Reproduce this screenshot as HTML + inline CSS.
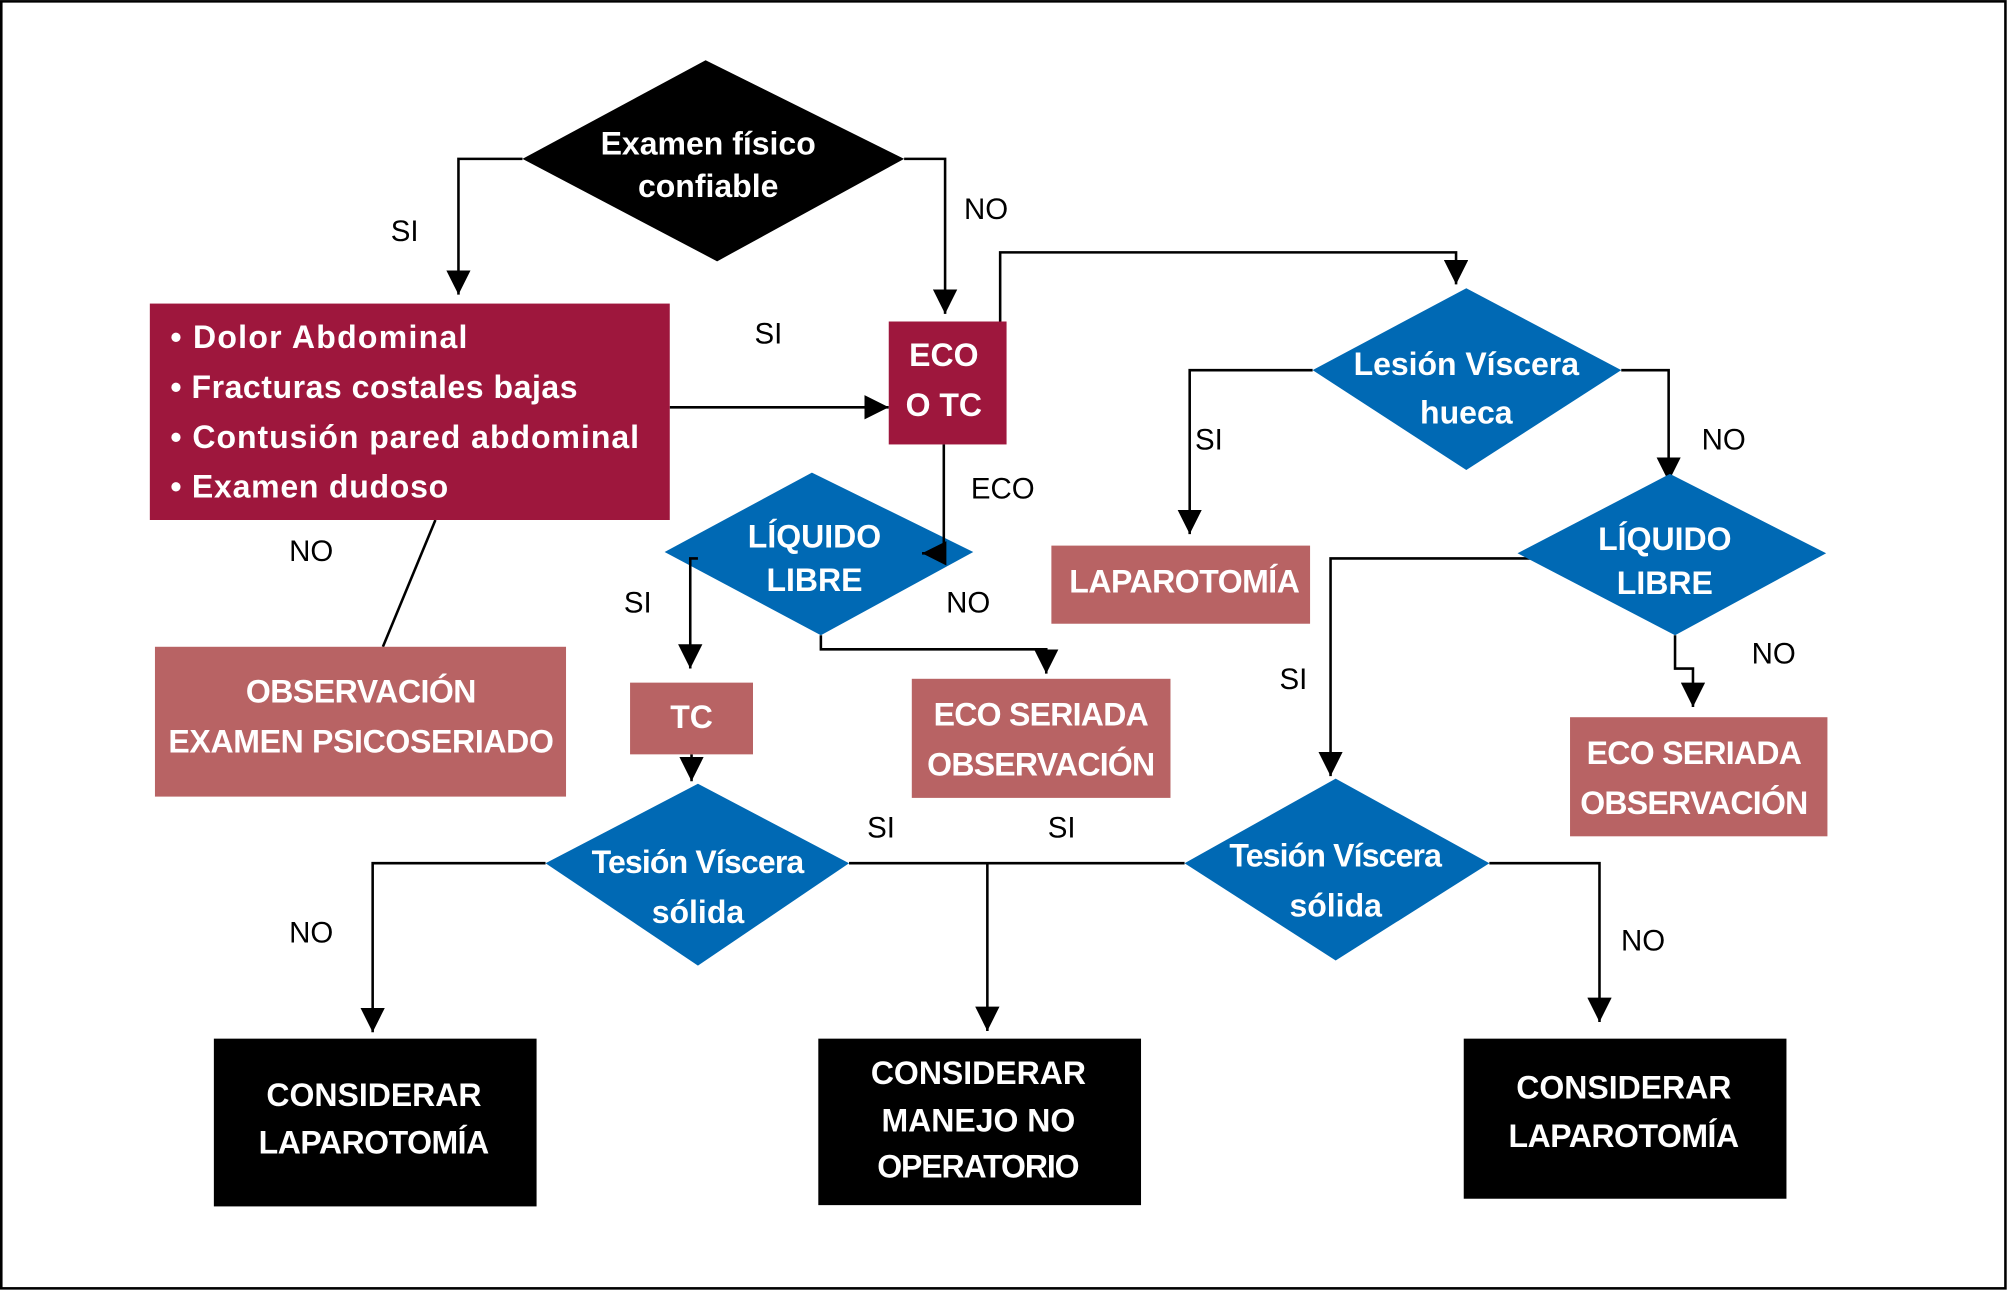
<!DOCTYPE html>
<html><head><meta charset="utf-8"><style>html,body{margin:0;padding:0;background:#fff}svg{display:block}
text{font-family:"Liberation Sans Narrow","Liberation Sans",sans-serif;text-anchor:middle;dominant-baseline:middle}
.w{fill:#fff;font-weight:bold;font-size:25px}.l{fill:#000;font-size:23px}</style></head><body>
<svg width="2008" height="1291" viewBox="0 0 1568 1008" xmlns="http://www.w3.org/2000/svg">
<defs>
<marker id="b" viewBox="0 0 10 10" refX="10" refY="5" markerWidth="19" markerHeight="19" markerUnits="userSpaceOnUse" orient="auto" preserveAspectRatio="none"><path d="M0,0L10,5L0,10z" fill="#000"/></marker></defs>
<rect x="1" y="1" width="1565" height="1005" fill="#fff" stroke="#000" stroke-width="2"/>
<g fill="none" stroke="#000" stroke-width="2">
<polyline points="408,124 358,124 358,230" marker-end="url(#b)"/>
<polyline points="706,124 738,124 738,245" marker-end="url(#b)"/>
<line x1="523" y1="318" x2="694" y2="318" marker-end="url(#b)"/>
<polyline points="781,251 781,197 1137,197 1137,222" marker-end="url(#b)"/>
<polyline points="1025,289 929,289 929,417" marker-end="url(#b)"/>
<polyline points="1266,289 1303,289 1303,376" marker-end="url(#b)"/>
<polyline points="1212,436 1039,436 1039,606" marker-end="url(#b)"/>
<polyline points="1308,496 1308,522 1322,522 1322,552" marker-end="url(#b)"/>
<polyline points="641,496 641,507 817,507 817,526" marker-end="url(#b)"/>
<line x1="340" y1="406" x2="299" y2="505"/>
<line x1="540" y1="589" x2="540" y2="610" marker-end="url(#b)"/>
<polyline points="426,674 291,674 291,806" marker-end="url(#b)"/>
<line x1="663" y1="674" x2="925" y2="674"/>
<line x1="771" y1="674" x2="771" y2="805" marker-end="url(#b)"/>
<polyline points="1163,674 1249,674 1249,798" marker-end="url(#b)"/>
</g>
<polygon points="551,47 706,124 560,204 408,124" fill="#000"/>
<text class="w" x="553" y="114">Examen físico</text><text class="w" x="553" y="147">confiable</text>
<rect x="117" y="237" width="406" height="169" fill="#9e173d"/>
<g class="w"><text x="133" y="265" style="text-anchor:start" textLength="232">• Dolor Abdominal</text><text x="133" y="304" style="text-anchor:start" textLength="318">• Fracturas costales bajas</text><text x="133" y="343" style="text-anchor:start" textLength="366">• Contusión pared abdominal</text><text x="133" y="382" style="text-anchor:start" textLength="217">• Examen dudoso</text></g>
<rect x="694" y="251" width="92" height="96" fill="#9e173d"/>
<text class="w" x="737" y="279">ECO</text><text class="w" x="737" y="318">O TC</text>
<polygon points="1145,225 1266,289 1145,367 1025,289" fill="#0069b4"/>
<text class="w" x="1145" y="286" textLength="176">Lesión Víscera</text><text class="w" x="1145" y="324">hueca</text>
<rect x="821" y="426" width="202" height="61" fill="#b86364"/><text class="w" x="925" y="456" textLength="180">LAPAROTOMÍA</text>
<polygon points="1304,370 1426,432 1308,496 1185,432" fill="#0069b4"/>
<text class="w" x="1300" y="423">LÍQUIDO</text><text class="w" x="1300" y="457">LIBRE</text>
<rect x="1226" y="560" width="201" height="93" fill="#b86364"/><text class="w" x="1323" y="590" textLength="168">ECO SERIADA</text><text class="w" x="1323" y="629" textLength="178">OBSERVACIÓN</text>
<polygon points="634,369 760,431 641,496 519,431" fill="#0069b4"/>
<text class="w" x="636" y="421">LÍQUIDO</text><text class="w" x="636" y="455">LIBRE</text>
<g fill="none" stroke="#000" stroke-width="2">
<polyline points="737,347 737,432 720,432" marker-end="url(#b)"/>
<polyline points="545,436 539,436 539,522" marker-end="url(#b)"/>
</g>
<rect x="121" y="505" width="321" height="117" fill="#b86364"/><text class="w" x="282" y="542" textLength="180">OBSERVACIÓN</text><text class="w" x="282" y="581" textLength="301">EXAMEN PSICOSERIADO</text>
<rect x="492" y="533" width="96" height="56" fill="#b86364"/><text class="w" x="540" y="562">TC</text>
<rect x="712" y="530" width="202" height="93" fill="#b86364"/><text class="w" x="813" y="560" textLength="168">ECO SERIADA</text><text class="w" x="813" y="599" textLength="178">OBSERVACIÓN</text>
<polygon points="545,612 663,674 545,754 426,674" fill="#0069b4"/>
<text class="w" x="545" y="675" textLength="166">Tesión Víscera</text><text class="w" x="545" y="714">sólida</text>
<polygon points="1043,608 1163,674 1043,750 925,674" fill="#0069b4"/>
<text class="w" x="1043" y="670" textLength="166">Tesión Víscera</text><text class="w" x="1043" y="709">sólida</text>
<rect x="167" y="811" width="252" height="131" fill="#000"/><text class="w" x="292" y="857">CONSIDERAR</text><text class="w" x="292" y="894" textLength="180">LAPAROTOMÍA</text>
<rect x="639" y="811" width="252" height="130" fill="#000"/><text class="w" x="764" y="840">CONSIDERAR</text><text class="w" x="764" y="877">MANEJO NO</text><text class="w" x="764" y="913" textLength="158">OPERATORIO</text>
<rect x="1143" y="811" width="252" height="125" fill="#000"/><text class="w" x="1268" y="851">CONSIDERAR</text><text class="w" x="1268" y="889" textLength="180">LAPAROTOMÍA</text>
<g>
<text class="l" x="316" y="182">SI</text><text class="l" x="770" y="165">NO</text><text class="l" x="600" y="262">SI</text>
<text class="l" x="944" y="345">SI</text><text class="l" x="1346" y="345">NO</text><text class="l" x="783" y="383">ECO</text>
<text class="l" x="243" y="432">NO</text><text class="l" x="498" y="472">SI</text><text class="l" x="756" y="472">NO</text>
<text class="l" x="1010" y="532">SI</text><text class="l" x="1385" y="512">NO</text>
<text class="l" x="688" y="648">SI</text><text class="l" x="829" y="648">SI</text>
<text class="l" x="243" y="730">NO</text><text class="l" x="1283" y="736">NO</text>
</g>
</svg></body></html>
